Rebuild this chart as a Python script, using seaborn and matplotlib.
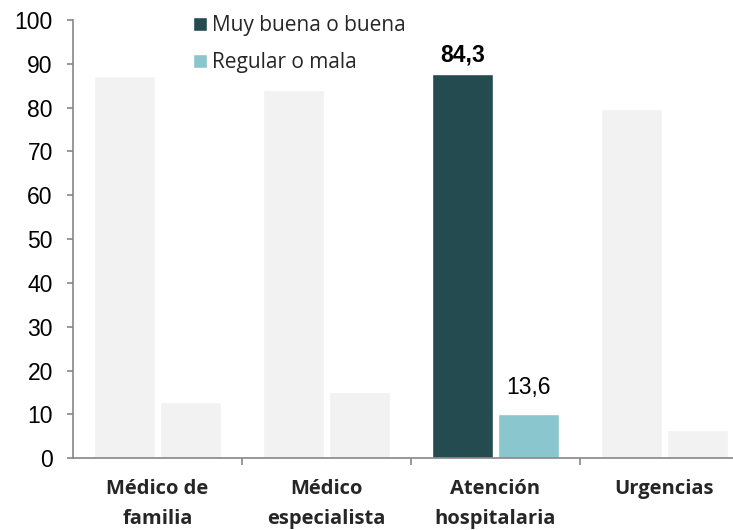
import matplotlib
matplotlib.use('Agg')
import matplotlib.pyplot as plt
from matplotlib.patches import Patch
import seaborn as sns
import pandas as pd

categorias = ['Médico de\nfamilia', 'Médico\nespecialista', 'Atención\nhospitalaria', 'Urgencias']
series = ['Muy buena o buena', 'Regular o mala']
buena = [87.2, 84.0, 87.7, 79.7]
mala = [12.8, 15.1, 10.1, 6.5]
etiquetas_buena = ['', '', '84,3', '']
etiquetas_mala = ['', '', '13,6', '']

color_buena = '#234B50'
color_mala = '#8AC6CD'
gris = '#F2F2F2'
eje = '#868686'

df = pd.DataFrame({
    'categoria': categorias * 2,
    'serie': [series[0]] * 4 + [series[1]] * 4,
    'valor': buena + mala,
})

sns.set_style('white')
plt.rcParams['font.family'] = ['Liberation Sans', 'DejaVu Sans']

fig = plt.figure(figsize=(7.33, 5.30), dpi=100)
ax = fig.add_axes([0.0996, 0.1353, 0.922, 0.827])

sns.barplot(data=df, x='categoria', y='valor', hue='serie', order=categorias,
            hue_order=series, width=0.78, gap=0.077, palette=[gris, gris],
            legend=False, ax=ax, saturation=1)

# resaltar Atención hospitalaria
ax.containers[0][2].set_facecolor(color_buena)
ax.containers[1][2].set_facecolor(color_mala)

ax.bar_label(ax.containers[0], labels=etiquetas_buena, padding=5,
             fontsize=16.5, fontweight='bold', color='black')
ax.bar_label(ax.containers[1], labels=etiquetas_mala, padding=11,
             fontsize=16.5, color='black')

ax.set_ylim(0, 100)
ax.set_xlim(-0.5, 3.5)
ax.set_yticks(range(0, 101, 10))
ax.set_xlabel('')
ax.set_ylabel('')

for s in ['top', 'right']:
    ax.spines[s].set_visible(False)
for s in ['left', 'bottom']:
    ax.spines[s].set_color(eje)
    ax.spines[s].set_linewidth(1.2)

ax.tick_params(axis='y', left=True, length=4.5, width=1.2, color=eje,
               pad=10, labelsize=16.5, labelcolor='black')
ax.set_xticks([0.5, 1.5, 2.5], minor=True)
ax.set_xticks(range(4))
ax.set_xticklabels(categorias, fontfamily='Open Sans', fontweight='bold',
                   fontsize=14.5, linespacing=1.68)
ax.tick_params(axis='x', which='major', length=0, pad=15)
ax.tick_params(axis='x', which='minor', bottom=True, length=5, width=1.2, color=eje)

handles = [Patch(facecolor=color_buena), Patch(facecolor=color_mala)]
fig.legend(handles, series, loc='upper left', bbox_to_anchor=(0.252, 0.987),
           frameon=False, prop={'family': 'Open Sans', 'size': 15},
           handlelength=0.67, handleheight=0.67, handletextpad=0.25,
           labelspacing=0.76, borderaxespad=0)

fig.savefig('out.png', dpi=100)
